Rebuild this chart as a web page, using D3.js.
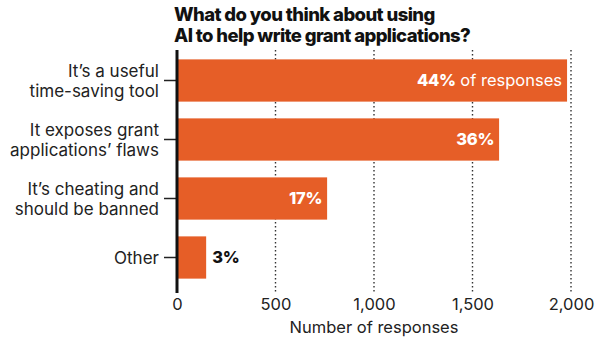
<!DOCTYPE html>
<html>
<head>
<meta charset="utf-8">
<script src="https://cdn.jsdelivr.net/npm/d3@7"></script>
<style>
  body { margin: 0; background: #fff; }
  svg { display: block; font-family: Inter, "Open Sans", sans-serif; }
</style>
</head>
<body>
<svg id="bar-chart" width="600" height="344"></svg>
<script>
// data
let categories = [
  "It’s a useful\ntime-saving tool",
  "It exposes grant\napplications’ flaws",
  "It’s cheating and\nshould be banned",
  "Other"
]
let responses = [1980, 1635, 762, 148]
let shares = ["44%", "36%", "17%", "3%"]
let xTicks = [0, 500, 1000, 1500, 2000]
let titleLines = ["What do you think about using", "AI to help write grant applications?"]
let xTitle = "Number of responses"

let data = categories.map((c, i) => ({ cat: c, value: responses[i], share: shares[i] }))

let svg = d3.select("#bar-chart")
let orange = "#e65e27"
let plotTop = 50, plotBottom = 293

let x = d3.scaleLinear()
    .domain([0, 2000])
    .range([177, 571])

let y = d3.scaleBand()
    .domain(categories)
    .range([51, 287])
    .paddingInner(0.284)
    .paddingOuter(0.142)

// title
svg.append("g")
    .selectAll("text")
    .data(titleLines)
    .join("text")
    .attr("x", 174)
    .attr("y", (d, i) => 21 + i * 21)
    .text(d => d)
    .style("font-size", "18.5px")
    .style("font-weight", 800)
    .style("letter-spacing", "-0.6px")
    .style("fill", "#111")

// dotted grid lines
svg.append("g")
    .selectAll("line")
    .data(xTicks.filter(d => d > 0))
    .join("line")
    .attr("x1", d => x(d))
    .attr("x2", d => x(d))
    .attr("y1", plotTop)
    .attr("y2", plotBottom)
    .style("stroke", "#333")
    .style("stroke-width", 1.4)
    .style("stroke-dasharray", "1.4,2.6")

// bars
svg.append("g")
    .selectAll("rect")
    .data(data)
    .join("rect")
    .attr("x", x(0))
    .attr("y", d => y(d.cat))
    .attr("width", d => x(d.value) - x(0))
    .attr("height", y.bandwidth())
    .style("fill", orange)

// value labels
let labels = svg.append("g")
    .selectAll("text")
    .data(data)
    .join("text")
    .attr("x", (d, i) => i == 3 ? x(d.value) + 6 : x(d.value) - 5)
    .attr("y", d => y(d.cat) + y.bandwidth() / 2)
    .attr("dy", "0.36em")
    .attr("text-anchor", (d, i) => i == 3 ? "start" : "end")
    .style("font-size", "16.5px")
    .style("fill", (d, i) => i == 3 ? "#111" : "white")

labels.append("tspan")
    .text(d => d.share)
    .style("font-weight", 800)
    .style("letter-spacing", "-0.3px")

labels.filter((d, i) => i == 0)
    .append("tspan")
    .text(" of responses")
    .style("font-weight", 400)

// y axis with two-line category labels
let yAxis = svg.append("g")
    .attr("transform", `translate(${x(0)},0)`)
    .call(d3.axisLeft(y).tickSize(13).tickPadding(5))

yAxis.select(".domain").remove()
yAxis.selectAll(".tick line")
    .style("stroke", "#222")
    .style("stroke-width", 1.5)

yAxis.selectAll(".tick text")
    .text(null)
    .attr("dy", null)
    .style("font-size", "17px")
    .style("font-family", "Inter, 'Open Sans', sans-serif")
    .style("fill", "#222")
    .each(function(d) {
        let lines = d.split("\n")
        let t = d3.select(this)
        lines.forEach((l, i) => {
            t.append("tspan")
                .attr("x", -18)
                .attr("y", (i - (lines.length - 1) / 2) * 20)
                .attr("dy", "0.36em")
                .text(l)
        })
    })

// vertical axis line
svg.append("line")
    .attr("x1", x(0))
    .attr("x2", x(0))
    .attr("y1", plotTop)
    .attr("y2", plotBottom)
    .style("stroke", "#111")
    .style("stroke-width", 3)

// x axis
let xAxis = svg.append("g")
    .attr("transform", `translate(0,${plotBottom})`)
    .call(d3.axisBottom(x)
        .tickValues(xTicks)
        .tickSize(0)
        .tickPadding(5)
        .tickFormat(d3.format(",")))

xAxis.select(".domain").remove()
xAxis.selectAll(".tick text")
    .style("font-size", "16.5px")
    .style("font-family", "Inter, 'Open Sans', sans-serif")
    .style("fill", "#222")

svg.append("text")
    .attr("x", (x.range()[0] + x.range()[1]) / 2)
    .attr("y", 333)
    .attr("text-anchor", "middle")
    .text(xTitle)
    .style("font-size", "16.5px")
    .style("fill", "#222")
</script>
</body>
</html>
